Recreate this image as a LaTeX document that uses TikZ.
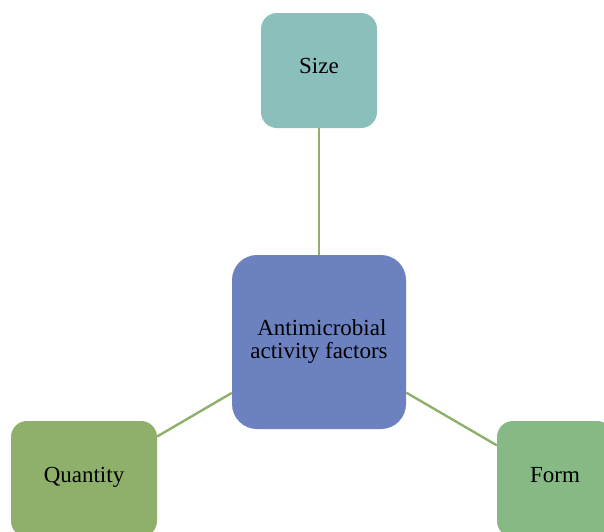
\documentclass[tikz,border=0pt]{standalone}
\usepackage{fontspec}
\setmainfont{Liberation Serif}
\definecolor{sizecol}{HTML}{8ABFBB}
\definecolor{centercol}{HTML}{6C81C0}
\definecolor{qtycol}{HTML}{8FB06B}
\definecolor{formcol}{HTML}{86B984}
\definecolor{linkcol}{HTML}{8DB06A}
\tikzset{
  box/.style={rounded corners=16pt, inner sep=0pt, align=center,
    font=\fontsize{23}{25}\selectfont, text=black},
  link/.style={draw=linkcol, line width=2.4pt}
}
\begin{document}
\begin{tikzpicture}[x=1pt,y=-1pt]
\useasboundingbox (0,0) rectangle (604,531);
\clip (0,0) rectangle (604,531);
\node[box, fill=sizecol, minimum width=116pt, minimum height=115pt] (size) at (319,70.5) {\raisebox{9pt}{Size}};
\node[box, fill=centercol, minimum width=174pt, minimum height=174pt, rounded corners=25pt] (center) at (319,342) {\raisebox{7pt}{\begin{tabular}{@{}c@{}}\ Antimicrobial\\[-2pt] activity factors\end{tabular}}};
\node[box, fill=qtycol, minimum width=146pt, minimum height=116pt] (qty) at (84,479) {\raisebox{9pt}{Quantity}};
\node[box, fill=formcol, minimum width=116pt, minimum height=116pt] (form) at (555,479) {\raisebox{9pt}{Form}};
\draw[link] (center) -- (size);
\draw[link] (center) -- (qty);
\draw[link] (center) -- (form);
\end{tikzpicture}
\end{document}
